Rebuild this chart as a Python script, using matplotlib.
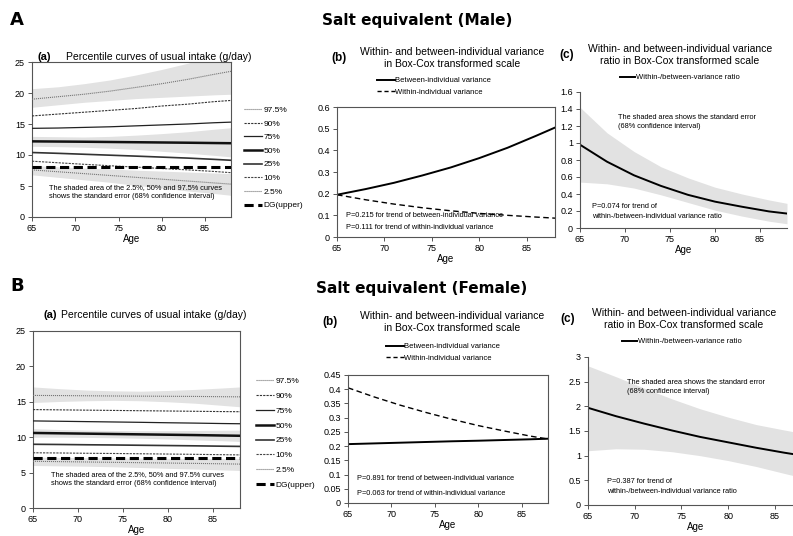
import matplotlib.pyplot as plt
from matplotlib.lines import Line2D
from matplotlib.ticker import FuncFormatter

plt.rcParams['font.family'] = ['Liberation Sans', 'DejaVu Sans']

W, H = 793, 536

age = [65, 68, 71, 74, 77, 80, 83, 86, 88]
age_ticks = [65, 70, 75, 80, 85]

# ---- A: Male ----
m_p975 = [19.0, 19.4, 19.8, 20.3, 20.9, 21.5, 22.2, 23.0, 23.5]
m_p975_lo = [17.7, 18.1, 18.5, 18.8, 19.1, 19.3, 19.5, 19.7, 19.8]
m_p975_hi = [20.7, 21.0, 21.5, 22.1, 22.9, 23.8, 24.8, 26.0, 27.0]
m_p90 = [16.3, 16.6, 16.9, 17.2, 17.5, 17.9, 18.2, 18.6, 18.8]
m_p75 = [14.3, 14.35, 14.45, 14.55, 14.7, 14.85, 15.0, 15.2, 15.3]
m_p50 = [12.2, 12.17, 12.14, 12.1, 12.06, 12.02, 11.98, 11.93, 11.9]
m_p50_lo = [11.4, 11.35, 11.25, 11.1, 10.9, 10.6, 10.3, 9.95, 9.7]
m_p50_hi = [13.0, 12.95, 12.9, 13.0, 13.2, 13.45, 13.75, 14.15, 14.4]
m_p25 = [10.4, 10.27, 10.12, 9.97, 9.82, 9.66, 9.5, 9.3, 9.15]
m_p10 = [9.0, 8.75, 8.5, 8.27, 8.05, 7.82, 7.6, 7.35, 7.15]
m_p025 = [7.6, 7.3, 7.0, 6.7, 6.4, 6.1, 5.8, 5.5, 5.3]
m_p025_lo = [6.8, 6.4, 6.0, 5.6, 5.1, 4.7, 4.2, 3.8, 3.5]
m_p025_hi = [8.3, 8.1, 7.9, 7.75, 7.55, 7.4, 7.25, 7.1, 7.0]
m_dg = 8.0

m_between = [0.195, 0.221, 0.250, 0.284, 0.321, 0.364, 0.412, 0.467, 0.505]
m_within = [0.195, 0.172, 0.152, 0.135, 0.121, 0.109, 0.100, 0.092, 0.087]

m_ratio = [0.98, 0.78, 0.62, 0.495, 0.39, 0.31, 0.25, 0.195, 0.17]
m_ratio_lo = [0.54, 0.52, 0.47, 0.39, 0.30, 0.21, 0.14, 0.08, 0.05]
m_ratio_hi = [1.42, 1.12, 0.90, 0.72, 0.59, 0.48, 0.40, 0.33, 0.29]

# ---- B: Female ----
f_p975 = [15.9, 15.88, 15.85, 15.82, 15.8, 15.78, 15.76, 15.72, 15.7]
f_p975_lo = [14.9, 15.05, 15.15, 15.2, 15.15, 15.0, 14.8, 14.5, 14.3]
f_p975_hi = [17.1, 16.85, 16.65, 16.55, 16.5, 16.6, 16.75, 16.95, 17.1]
f_p90 = [13.9, 13.86, 13.82, 13.78, 13.74, 13.7, 13.66, 13.62, 13.6]
f_p75 = [12.3, 12.25, 12.2, 12.15, 12.1, 12.04, 11.99, 11.93, 11.9]
f_p50 = [10.6, 10.55, 10.5, 10.45, 10.4, 10.35, 10.3, 10.24, 10.2]
f_p50_lo = [10.0, 10.0, 9.97, 9.92, 9.85, 9.75, 9.62, 9.5, 9.4]
f_p50_hi = [11.2, 11.08, 11.0, 10.95, 10.92, 10.92, 10.95, 10.98, 11.0]
f_p25 = [9.0, 8.97, 8.93, 8.9, 8.86, 8.82, 8.78, 8.73, 8.7]
f_p10 = [7.8, 7.77, 7.73, 7.7, 7.66, 7.62, 7.58, 7.53, 7.5]
f_p025 = [6.6, 6.55, 6.5, 6.45, 6.4, 6.35, 6.3, 6.24, 6.2]
f_p025_lo = [6.0, 5.95, 5.9, 5.82, 5.72, 5.6, 5.5, 5.38, 5.3]
f_p025_hi = [7.2, 7.15, 7.1, 7.08, 7.05, 7.02, 7.0, 7.0, 7.0]
f_dg = 7.0

f_between = [0.207, 0.2095, 0.212, 0.2145, 0.217, 0.219, 0.2215, 0.224, 0.226]
f_within = [0.405, 0.373, 0.344, 0.318, 0.294, 0.272, 0.253, 0.235, 0.225]

f_ratio = [1.97, 1.80, 1.65, 1.51, 1.38, 1.27, 1.16, 1.06, 1.00]
f_ratio_lo = [1.10, 1.14, 1.13, 1.08, 1.00, 0.90, 0.78, 0.64, 0.55]
f_ratio_hi = [2.82, 2.60, 2.37, 2.15, 1.95, 1.78, 1.63, 1.52, 1.45]

pct_labels = ['97.5%', '90%', '75%', '50%', '25%', '10%', '2.5%', 'DG(upper)']
pct_styles = [
    dict(color='#777777', lw=0.8, ls=(0, (1, 0.8))),
    dict(color='#333333', lw=0.8, ls=(0, (2, 1))),
    dict(color='#222222', lw=0.9, ls='-'),
    dict(color='#111111', lw=1.8, ls='-'),
    dict(color='#333333', lw=1.2, ls='-'),
    dict(color='#444444', lw=0.8, ls=(0, (2, 1))),
    dict(color='#777777', lw=0.8, ls=(0, (1, 0.8))),
    dict(color='#000000', lw=2.2, ls=(0, (3, 1.5))),
]
SHADE = '#e2e2e2'
fmt = FuncFormatter(lambda v, p: ('%g' % round(v, 3)))

fig = plt.figure(figsize=(W / 100, H / 100), dpi=100)


def px_axes(l, t, r, b, box=True):
    ax = fig.add_axes([l / W, 1 - b / H, (r - l) / W, (b - t) / H])
    ax.set_xlim(65, 88)
    ax.set_xticks(age_ticks)
    ax.tick_params(labelsize=6.5, length=3, width=0.7, color='#555555', pad=2)
    for s in ax.spines.values():
        s.set_linewidth(0.8)
        s.set_color('#555555')
    if not box:
        ax.spines['top'].set_visible(False)
        ax.spines['right'].set_visible(False)
    ax.set_xlabel('Age', fontsize=7, labelpad=1)
    ax.yaxis.set_major_formatter(fmt)
    return ax


def ftext(x, y, s, **kw):
    fig.text(x / W, 1 - y / H, s, **kw)


def percentile_panel(ax, series, bands, dg):
    for lo, hi in bands:
        ax.fill_between(age, lo, hi, color=SHADE, lw=0, zorder=1)
    for ys, st in zip(series, pct_styles[:7]):
        ax.plot(age, ys, zorder=3, **st)
    ax.plot([65, 88], [dg, dg], zorder=4, **pct_styles[7])
    ax.set_ylim(0, 25)
    ax.set_yticks([0, 5, 10, 15, 20, 25])
    ax.text(67, 4.1, 'The shaded area of the 2.5%, 50% and 97.5% curves\n'
            'shows the standard error (68% confidence interval)',
            fontsize=5.3, va='center', linespacing=1.4)


def pct_legend(x, y, spacing):
    handles = [Line2D([], [], **st) for st in pct_styles]
    fig.legend(handles, pct_labels, loc='upper left',
               bbox_to_anchor=(x / W, 1 - y / H), frameon=False,
               fontsize=6, handlelength=2.2, handletextpad=0.1,
               labelspacing=spacing, borderpad=0, borderaxespad=0)


def var_legend(x, y):
    handles = [Line2D([], [], color='black', lw=1.4),
               Line2D([], [], color='black', lw=1.0, ls=(0, (3, 2)))]
    fig.legend(handles, ['Between-individual variance', 'Within-individual variance'],
               loc='upper left', bbox_to_anchor=(x / W, 1 - y / H), frameon=False,
               fontsize=5.5, handlelength=2.3, handletextpad=0.1,
               labelspacing=0.5, borderpad=0, borderaxespad=0)


def ratio_legend(x, y):
    fig.legend([Line2D([], [], color='black', lw=1.4)], ['Within-/between-variance ratio'],
               loc='upper left', bbox_to_anchor=(x / W, 1 - y / H), frameon=False,
               fontsize=5.5, handlelength=2.0, handletextpad=0.1,
               borderpad=0, borderaxespad=0)


def panel_title(tag, tx, x, y, s):
    ftext(tx, y, tag, fontsize=8.5, fontweight='bold', va='center')
    ftext(x, y, s, fontsize=7.5, va='center', ha='center', linespacing=1.15)


# ===== Row A =====
ftext(10, 20, 'A', fontsize=13, fontweight='bold', va='center', family='DejaVu Sans')
ftext(417, 20, 'Salt equivalent (Male)', fontsize=11, fontweight='bold',
      va='center', ha='center', family='DejaVu Sans')

ax = px_axes(32, 62, 231, 217)
percentile_panel(ax, [m_p975, m_p90, m_p75, m_p50, m_p25, m_p10, m_p025],
                 [(m_p975_lo, m_p975_hi), (m_p50_lo, m_p50_hi), (m_p025_lo, m_p025_hi)], m_dg)
ftext(37, 57, '(a)', fontsize=8, fontweight='bold', va='center')
ftext(66, 57, 'Percentile curves of usual intake (g/day)', fontsize=7.5, va='center')
pct_legend(244, 106, 0.7)

ax = px_axes(337, 107, 555, 237)
ax.plot(age, m_between, color='black', lw=1.4)
ax.plot(age, m_within, color='black', lw=1.0, ls=(0, (4, 2.5)))
ax.set_ylim(0, 0.6)
ax.set_yticks([0, 0.1, 0.2, 0.3, 0.4, 0.5, 0.6])
ax.text(66, 0.1, 'P=0.215 for trend of between-individual variance', fontsize=5.3, va='center')
ax.text(66, 0.045, 'P=0.111 for trend of within-individual variance', fontsize=5.3, va='center')
panel_title('(b)', 331, 452, 58, 'Within- and between-individual variance\nin Box-Cox transformed scale')
var_legend(377, 77)

ax = px_axes(580, 92, 787, 228, box=False)
ax.fill_between(age, m_ratio_lo, m_ratio_hi, color=SHADE, lw=0)
ax.plot(age, m_ratio, color='black', lw=1.4)
ax.set_ylim(0, 1.6)
ax.set_yticks([0, 0.2, 0.4, 0.6, 0.8, 1.0, 1.2, 1.4, 1.6])
ax.text(69.2, 1.25, 'The shaded area shows the standard error\n(68% confidence interval)',
        fontsize=5.3, va='center', linespacing=1.4)
ax.text(66.3, 0.19, 'P=0.074 for trend of\nwithin-/between-individual variance ratio',
        fontsize=5.3, va='center', linespacing=1.6)
panel_title('(c)', 559, 680, 55, 'Within- and between-individual variance\nratio in Box-Cox transformed scale')
ratio_legend(620, 74)

# ===== Row B =====
ftext(10, 286, 'B', fontsize=13, fontweight='bold', va='center', family='DejaVu Sans')
ftext(422, 288, 'Salt equivalent (Female)', fontsize=11, fontweight='bold',
      va='center', ha='center', family='DejaVu Sans')

ax = px_axes(33, 331, 240, 508)
percentile_panel(ax, [f_p975, f_p90, f_p75, f_p50, f_p25, f_p10, f_p025],
                 [(f_p975_lo, f_p975_hi), (f_p50_lo, f_p50_hi), (f_p025_lo, f_p025_hi)], f_dg)
ftext(43, 315, '(a)', fontsize=8, fontweight='bold', va='center')
ftext(61, 315, 'Percentile curves of usual intake (g/day)', fontsize=7.5, va='center')
pct_legend(256, 377, 0.85)

ax = px_axes(348, 375, 548, 503)
ax.plot(age, f_between, color='black', lw=1.4)
ax.plot(age, f_within, color='black', lw=1.0, ls=(0, (4, 2.5)))
ax.set_ylim(0, 0.45)
ax.set_yticks([0, 0.05, 0.1, 0.15, 0.2, 0.25, 0.3, 0.35, 0.4, 0.45])
ax.text(66, 0.085, 'P=0.891 for trend of between-individual variance', fontsize=5.3, va='center')
ax.text(66, 0.035, 'P=0.063 for trend of within-individual variance', fontsize=5.3, va='center')
panel_title('(b)', 322, 452, 322, 'Within- and between-individual variance\nin Box-Cox transformed scale')
var_legend(386, 343)

ax = px_axes(588, 357, 803, 505, box=False)
ax.fill_between(age, f_ratio_lo, f_ratio_hi, color=SHADE, lw=0)
ax.plot(age, f_ratio, color='black', lw=1.4)
ax.set_ylim(0, 3)
ax.set_yticks([0, 0.5, 1, 1.5, 2, 2.5, 3])
ax.text(69.2, 2.4, 'The shaded area shows the standard error\n(68% confidence interval)',
        fontsize=5.3, va='center', linespacing=1.4)
ax.text(67, 0.38, 'P=0.387 for trend of\nwithin-/between-individual variance ratio',
        fontsize=5.3, va='center', linespacing=1.6)
panel_title('(c)', 560, 684, 319, 'Within- and between-individual variance\nratio in Box-Cox transformed scale')
ratio_legend(622, 338)

fig.savefig('out.png', dpi=100)
